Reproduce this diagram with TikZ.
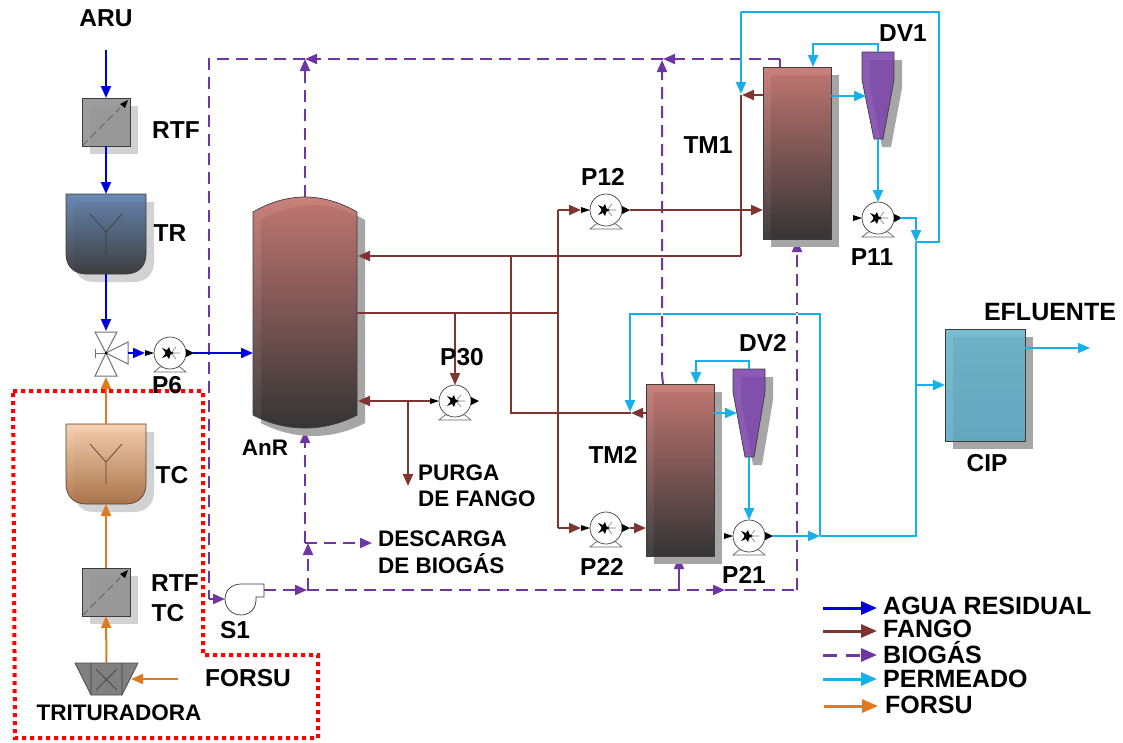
\documentclass[tikz,border=0pt]{standalone}
\usepackage{fontspec}
\setmainfont{Liberation Sans}
\usetikzlibrary{arrows.meta}
\definecolor{cblue}{HTML}{0000DC}
\definecolor{cbrown}{HTML}{7E3530}
\definecolor{cpurple}{HTML}{7035A5}
\definecolor{ccyan}{HTML}{18B0EA}
\definecolor{corange}{HTML}{E07A1E}
\definecolor{shd}{HTML}{A6A6A6}
\definecolor{shl}{HTML}{D2D2D2}
\definecolor{edge}{HTML}{3C3C3C}
\definecolor{redtop}{HTML}{C4706A}
\definecolor{redbot}{HTML}{262527}
\definecolor{trtop}{HTML}{5A7DAB}
\definecolor{trbot}{HTML}{2E2E30}
\definecolor{tctop}{HTML}{F6CDAA}
\definecolor{tcbot}{HTML}{A66A3C}
\definecolor{tcedge}{HTML}{5A4030}
\definecolor{ciptop}{HTML}{66B4CC}
\definecolor{cipbot}{HTML}{5AA8C2}
\definecolor{dvfill}{HTML}{7D45AC}
\tikzset{
  flow/.style={line width=2pt,-{Triangle[length=12pt,width=10pt]}},
  plain/.style={line width=2pt},
  water/.style={flow,draw=cblue},
  sludge/.style={flow,draw=cbrown},
  sludgeline/.style={plain,draw=cbrown},
  gas/.style={flow,draw=cpurple,dash pattern=on 12pt off 7pt},
  gasline/.style={plain,draw=cpurple,dash pattern=on 12pt off 7pt},
  perm/.style={flow,draw=ccyan},
  permline/.style={plain,draw=ccyan},
  organic/.style={flow,draw=corange},
  legendflow/.style={line width=3pt,-{Triangle[length=16pt,width=13pt]}},
  lab/.style={inner sep=0pt,font=\bfseries\fontsize{24.5}{24.5}\selectfont},
  labm/.style={inner sep=0pt,font=\bfseries\fontsize{22.5}{22.5}\selectfont},
  labl/.style={inner sep=0pt,anchor=west,font=\bfseries\fontsize{25}{25}\selectfont},
  bbox/.style={inner sep=0pt,outer sep=0pt,draw=none},
  pumpbody/.style={circle,inner sep=0pt,outer sep=0pt,minimum size=32pt,draw=black!75,line width=.7pt,fill=white},
  part/.style={draw=edge,line width=.7pt},
  redline/.style={draw=red,line width=4pt,dash pattern=on 4pt off 4pt},
  mech/.style={draw=black!55,line width=1pt,fill=white},
}
% pump: name, x, y
\newcommand{\pumpat}[3]{%
  \draw[draw=black!60,line width=.7pt,fill=white] (#2-10,#3+14)--(#2+10,#3+14)--(#2+16,#3+19)--(#2-16,#3+19)--cycle;
  \node[pumpbody] (#1) at (#2,#3) {};
  \draw[black!50,line width=.6pt] (#2+1,#3)--(#2+10,#3) (#2+1,#3)--(#2+6,#3-6) (#2+1,#3)--(#2+6,#3+6);
  \fill[black] (#2-8,#3-5)--(#2+4,#3)--(#2-8,#3+5)--(#2-4,#3)--cycle;
  \fill[black] (#2-1,#3-6)--(#2+1,#3)--(#2-1,#3+6)--(#2-5,#3)--cycle;
  \fill[black] (#2-25,#3-3)--(#2-16,#3)--(#2-25,#3+3)--cycle;
  \fill[black] (#2+16,#3-4)--(#2+24,#3)--(#2+16,#3+4)--cycle;
}
% screen: name, x1, y1
\newcommand{\screenat}[3]{%
  \fill[shl] (#2+8,#3+8) rectangle (#2+56,#3+56);
  \node[bbox,minimum size=48pt,anchor=north west,fill=black!42,fill opacity=.92] (#1) at (#2,#3) {};
  \draw[part] (#2,#3) rectangle (#2+48,#3+48);
  \draw[black!70,line width=.6pt,dash pattern=on 8pt off 4pt] (#2,#3+48)--(#2+38,#3+10);
  \fill[black] (#2+46,#3+2)--(#2+43,#3+10)--(#2+38,#3+6)--cycle;
}
\newcommand{\settlerpath}[2]{(#1,#2)--(#1+80,#2)--(#1+80,#2+60) .. controls (#1+80,#2+72) and (#1+72,#2+80) .. (#1+60,#2+80)--(#1+20,#2+80) .. controls (#1+8,#2+80) and (#1,#2+72) .. (#1,#2+60)--cycle}
% settler: name, x1, y1, top colour, bottom colour, edge
\newcommand{\settlerat}[6]{%
  \fill[shl] \settlerpath{#2+8}{#3+8};
  \shade[top color=#4,bottom color=#5,opacity=.9] \settlerpath{#2}{#3};
  \draw[#6,line width=.7pt] \settlerpath{#2}{#3};
  \draw[#6,line width=.7pt] (#2+24,#3+20)--(#2+40,#3+38)--(#2+56,#3+20) (#2+40,#3+38)--(#2+40,#3+60);
  \node[bbox,minimum width=80pt,minimum height=80pt,anchor=north west] (#1) at (#2,#3) {};
}
% tank: name,x1,y1,x2,y2,top,bottom
\newcommand{\tankat}[7]{%
  \fill[shd] (#2+8,#3+8) rectangle (#4+8,#5+8);
  \shade[top color=#6,bottom color=#7,opacity=.88] (#2,#3) rectangle (#4,#5);
  \draw[part] (#2,#3) rectangle (#4,#5);
  \node[bbox,minimum width=#4-#2,minimum height=#5-#3,anchor=north west] (#1) at (#2,#3) {};
}
\newcommand{\dvpath}[4]{(#1,#2)--(#1+32,#2)--(#1+32,#2+#3)--(#1+21,#2+#4)--(#1+12,#2+#4)--(#1,#2+#3)--cycle}
% cyclone: name,x1,y1,cone start,cone end
\newcommand{\dvat}[5]{%
  \fill[shd] \dvpath{#2+8}{#3+8}{#4}{#5};
  \fill[dvfill,opacity=.88] \dvpath{#2}{#3}{#4}{#5};
  \draw[part] \dvpath{#2}{#3}{#4}{#5};
  \node[bbox,minimum width=32pt,minimum height=#5,anchor=north west] (#1) at (#2,#3) {};
}
\newcommand{\anrpath}[2]{(#1,#2+15) .. controls (#1+17,#2+5) and (#1+35,#2) .. (#1+52,#2) .. controls (#1+69,#2) and (#1+87,#2+5) .. (#1+104,#2+15)--(#1+104,#2+218) .. controls (#1+87,#2+227) and (#1+69,#2+231) .. (#1+52,#2+231) .. controls (#1+35,#2+231) and (#1+17,#2+227) .. (#1,#2+218)--cycle}
\begin{document}
\begin{tikzpicture}[x=1pt,y=-1pt]
\useasboundingbox (0,0) rectangle (1123,742);
\fill[white] (0,0) rectangle (1123,742);

%% junction coordinates
\coordinate (aruin) at (106,50);
\coordinate (vtop) at (106,331);
\coordinate (vbot) at (106,377);
\coordinate (vright) at (128,353);
\coordinate (p6in) at (145,353);
\coordinate (p6out) at (193,353);
\coordinate (anrin) at (253,353);
\coordinate (forsuin) at (178,679);
\coordinate (forsuend) at (131,679);
\coordinate (gtl) at (209,59);
\coordinate (gbl) at (209,599);
\coordinate (s1in) at (225,599);
\coordinate (s1out) at (264,590);
\coordinate (gb) at (307,590);
\coordinate (gb2) at (308,590);
\coordinate (gbup) at (308,543);
\coordinate (gdis) at (305,543);
\coordinate (gdisend) at (372,543);
\coordinate (anrbot) at (305,431);
\coordinate (anrtop) at (305,197);
\coordinate (gmid) at (725,590);
\coordinate (gbr) at (797,590);
\coordinate (gtm2) at (679,590);
\coordinate (tm2bot) at (679,557);
\coordinate (tm1bot) at (797,240);
\coordinate (gt1) at (663,59);
\coordinate (gt1b) at (662,60);
\coordinate (gt2) at (305,59);
\coordinate (gtm1a) at (780,59);
\coordinate (tm1a) at (780,67);
\coordinate (tm2a) at (663,384);
\coordinate (gtm2a) at (662,375);
\coordinate (anrr1) at (358,256);
\coordinate (anrr2) at (357,313);
\coordinate (anrr3) at (358,401);
\coordinate (p12in) at (581,210);
\coordinate (p12out) at (630,210);
\coordinate (tm1w) at (763,210);
\coordinate (tm1o) at (763,95);
\coordinate (tm1ot) at (742,95);
\coordinate (p22in) at (581,528);
\coordinate (p22out) at (630,528);
\coordinate (tm2w) at (646,528);
\coordinate (tm2o) at (646,413);
\coordinate (tm2ot) at (631,413);
\coordinate (br1) at (741,256);
\coordinate (br1t) at (741,95);
\coordinate (br2) at (511,256);
\coordinate (br2b) at (511,413);
\coordinate (bb) at (558,313);
\coordinate (bbt) at (558,210);
\coordinate (bbb) at (558,528);
\coordinate (b30) at (455,313);
\coordinate (p30t) at (455,385);
\coordinate (p30in) at (430,401);
\coordinate (bp) at (408,401);
\coordinate (bpend) at (408,486);
\coordinate (tm1e) at (831,96);
\coordinate (dv1in) at (866,96);
\coordinate (dv1t) at (878,52);
\coordinate (dv1b) at (878,139);
\coordinate (p11t) at (878,202);
\coordinate (tm1t) at (813,67);
\coordinate (c1a) at (878,44);
\coordinate (c1b) at (813,44);
\coordinate (p11o) at (900,218);
\coordinate (c1o) at (916,218);
\coordinate (c1j) at (916,242);
\coordinate (c1k) at (939,242);
\coordinate (c1l) at (939,12);
\coordinate (c1m) at (741,12);
\coordinate (c1e) at (741,94);
\coordinate (tm2e) at (714,413);
\coordinate (dv2in) at (737,413);
\coordinate (dv2t) at (749,369);
\coordinate (dv2b) at (749,457);
\coordinate (p21t) at (749,520);
\coordinate (c2a) at (749,361);
\coordinate (c2b) at (696,361);
\coordinate (tm2t) at (696,384);
\coordinate (p21o) at (772,536);
\coordinate (c2j) at (820,536);
\coordinate (c2k) at (820,314);
\coordinate (c2l) at (630,314);
\coordinate (c2end) at (630,412);
\coordinate (c2e) at (916,536);
\coordinate (cipj) at (916,385);
\coordinate (cipin) at (945,385);
\coordinate (cipo) at (1025,348);
\coordinate (effl) at (1090,348);

%% biogas (drawn first: other flows cross it)
\draw[gasline] (tm1a) -- (gtm1a);
\draw[gas] (gtm1a) -- (gt1);
\draw[gas] (gt1) -- (gt2);
\draw[gasline] (gt2) -- (gtl) -- (gbl);
\draw[gas] (gbl) -- (s1in);
\draw[gas] (tm2a) -- (gtm2a) -- (gt1b);
\draw[gas] (anrtop) -- (gt2);
\draw[gas] (s1out) -- (gb);
\draw[gas] (gb2) -- (gbup);
\draw[gas] (gdis) -- (anrbot);
\draw[gas] (gdis) -- (gdisend);
\draw[gas] (gb) -- (gmid);
\draw[gasline] (gmid) -- (gbr);
\draw[gas] (gbr) -- (tm1bot);
\draw[flow,draw=cpurple] (gtm2) -- (tm2bot);

%% equipment
\screenat{RTF}{82}{98}
\settlerat{TR}{66}{194}{trtop}{trbot}{edge}
\settlerat{TC}{66}{424}{tctop}{tcbot}{tcedge}
\screenat{RTFTC}{82}{568}
\fill[shd] \anrpath{261}{205};
\shade[top color=redtop,bottom color=redbot,opacity=.88] \anrpath{253}{197};
\draw[part] \anrpath{253}{197};
\node[bbox,minimum width=104pt,minimum height=231pt,anchor=north west] (AnR) at (253,197) {};
\tankat{TM1}{763}{67}{831}{239}{redtop}{redbot}
\tankat{TM2}{646}{384}{714}{556}{redtop}{redbot}
\tankat{CIP}{945}{329}{1025}{441}{ciptop}{cipbot}
\dvat{DV1}{862}{52}{28}{87}
\dvat{DV2}{733}{369}{23}{88}

% crusher
\node[bbox,minimum width=31pt,minimum height=32pt,anchor=north west] (TRIT) at (91,663) {};
\draw[fill=black!50,draw=black!70,line width=.7pt] (75,663)--(138,663)--(122,695)--(91,695)--cycle;
\draw[black!75,line width=.7pt] (91,663)--(91,695) (122,663)--(122,695) (96,669)--(117,690) (117,669)--(96,690);

% valve
\node[bbox,minimum size=4pt] (V) at (106,353) {};
\draw[mech] (95,332)--(117,332)--(106,353)--cycle;
\draw[mech] (95,376)--(117,376)--(106,353)--cycle;
\draw[mech] (128,342)--(128,364)--(106,353)--cycle;
\draw[black!55,line width=1pt] (95,353)--(106,353) (95,349)--(95,358);
\fill[black] (106,353) circle (1.5);

% pumps
\pumpat{P6}{170}{353}
\pumpat{P12}{606}{210}
\pumpat{P22}{606}{528}
\pumpat{P11}{878}{218}
\pumpat{P21}{749}{536}
\pumpat{P30}{455}{401}

% blower
\node[bbox,minimum size=32pt] (S1) at (241,599) {};
\draw[black!80,line width=.7pt,fill=white] (241,584)--(264,584)--(264,597)--(256,597) .. controls (257,608) and (250,615) .. (241,615) .. controls (232,615) and (225,608) .. (225,599) .. controls (225,590) and (232,584) .. (241,584) -- cycle;

%% water
\draw[water] (aruin) -- (RTF.north);
\draw[water] (RTF.south) -- (TR.north);
\draw[water] (TR.south) -- (vtop);
\draw[water] (vright) -- (p6in);
\draw[water] (p6out) -- (anrin);

%% organic fraction
\draw[organic] (TC.north) -- (vbot);
\draw[organic] (RTFTC.north) -- (TC.south);
\draw[organic] (TRIT.north) -- (RTFTC.south);
\draw[organic] (forsuin) -- (forsuend);

%% sludge
\draw[sludge] (tm1o) -- (tm1ot);
\draw[sludgeline] (br1t) -- (br1);
\draw[sludge] (br1) -- (anrr1);
\draw[sludgeline] (anrr2) -- (bb);
\draw[sludgeline] (bbt) -- (bbb);
\draw[sludge] (bbt) -- (p12in);
\draw[sludge] (bbb) -- (p22in);
\draw[sludge] (p12out) -- (tm1w);
\draw[sludge] (p22out) -- (tm2w);
\draw[sludge] (b30) -- (p30t);
\draw[sludge] (p30in) -- (anrr3);
\draw[sludge] (bp) -- (bpend);
\draw[white,line width=1.5pt] (511,310) -- (511,316);
\draw[sludgeline] (br2) -- (br2b) -- (tm2ot);
\draw[sludge] (tm2o) -- (tm2ot);

%% permeate
\draw[perm] (tm1e) -- (dv1in);
\draw[perm] (dv1t) -- (c1a) -- (c1b) -- (tm1t);
\draw[perm] (dv1b) -- (p11t);
\draw[perm] (p11o) -- (c1o) -- (c1j);
\draw[permline] (c1j) -- (c1k) -- (c1l) -- (c1m);
\draw[perm] (c1m) -- (c1e);
\draw[perm] (tm2e) -- (dv2in);
\draw[perm] (dv2t) -- (c2a) -- (c2b) -- (tm2t);
\draw[perm] (dv2b) -- (p21t);
\draw[perm] (p21o) -- (c2j);
\draw[permline] (c2j) -- (c2e) -- (c1j);
\draw[perm] (c2j) -- (c2k) -- (c2l) -- (c2end);
\draw[perm] (cipj) -- (cipin);
\draw[perm,line width=1.5pt] (cipo) -- (effl);
\draw[white,line width=2pt] (662,312.5) -- (662,315.5) (797,312.5) -- (797,315.5);

%% dotted boundary
\draw[redline] (13,391) -- (203,391) -- (203,655) -- (318,655) -- (318,738) -- (15,738) -- cycle;

%% labels
\node[lab] (tARU) at (106,18) {ARU};
\node[lab] (tRTF) at (176,130) {RTF};
\node[lab] (tTR) at (170,233) {TR};
\node[lab] (tP6) at (167,385) {P6};
\node[lab] (tTC) at (172,475) {TC};
\node[lab] (tRTF2) at (175,583) {RTF};
\node[lab] (tTC2) at (168,613) {TC};
\node[lab] (tS1) at (235,630) {S1};
\node[labm] (tTRIT) at (119,713) {TRITURADORA};
\node[lab] (tFORSU) at (248,678) {FORSU};
\node[labm] (tAnR) at (265,448) {AnR};
\node[lab] (tP30) at (462,357) {P30};
\node[labm,anchor=west] (tPURGA) at (418,473) {PURGA};
\node[labm,anchor=west] (tDEF) at (418,499) {DE FANGO};
\node[labm,anchor=west] (tDESC) at (378,539) {DESCARGA};
\node[labm,anchor=west] (tDEB) at (378,564) {DE BIOGÁS};
\node[lab] (tP12) at (603,177) {P12};
\node[lab] (tTM1) at (708,145) {TM1};
\node[lab] (tDV1) at (903,33) {DV1};
\node[lab] (tP11) at (872,257) {P11};
\node[lab] (tDV2) at (763,343) {DV2};
\node[lab] (tTM2) at (613,455) {TM2};
\node[lab] (tP22) at (602,567) {P22};
\node[lab] (tP21) at (744,575) {P21};
\node[lab] (tCIP) at (987,463) {CIP};
\node[lab,font=\bfseries\fontsize{25}{25}\selectfont] (tEFL) at (1050,312) {EFLUENTE};

%% legend
\coordinate (la1) at (823,608); \coordinate (la2) at (877,608);
\coordinate (lb1) at (823,631); \coordinate (lb2) at (877,631);
\coordinate (lc1) at (823,655); \coordinate (lc2) at (877,655);
\coordinate (ld1) at (823,679); \coordinate (ld2) at (877,679);
\coordinate (le1) at (824,706); \coordinate (le2) at (878,706);
\draw[legendflow,draw=cblue] (la1) -- (la2);
\draw[legendflow,draw=cbrown] (lb1) -- (lb2);
\draw[legendflow,draw=cpurple,dash pattern=on 14pt off 9pt] (lc1) -- (lc2);
\draw[legendflow,draw=ccyan] (ld1) -- (ld2);
\draw[legendflow,draw=corange] (le1) -- (le2);
\node[labl] (l1) at (883,606) {AGUA RESIDUAL};
\node[labl,text height=18pt,text depth=0pt] (l2) at (883,628.5) {FANGO};
\node[labl,text height=18pt,text depth=0pt] (l3) at (883,654) {BIOGÁS};
\node[labl,text height=18pt,text depth=0pt] (l4) at (883,678) {PERMEADO};
\node[labl] (l5) at (885,705) {FORSU};
\end{tikzpicture}
\end{document}
